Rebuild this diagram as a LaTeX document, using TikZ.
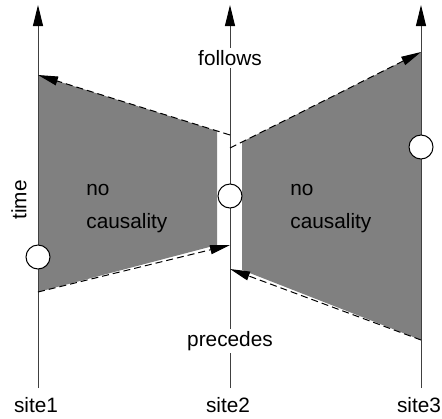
\documentclass[tikz,border=0pt]{standalone}
\usepackage{fontspec}
\setmainfont{Liberation Sans}
\usetikzlibrary{arrows.meta}

\begin{document}
\begin{tikzpicture}[x=0.5pt, y=-0.5pt,
            font=\fontsize{10.4}{16.5}\selectfont,
            site/.style={draw=black!75, line width=0.5pt, -{Triangle[length=10.5pt,width=5pt,color=black]}},
            msg/.style={draw=black, line width=0.5pt, dash pattern=on 3.5pt off 2pt, -{Triangle[length=10pt,width=4.5pt]}},
            event/.style={draw, circle, fill=white, minimum size=12pt, inner sep=0pt, line width=0.5pt},
            zone/.style={fill=black!50, draw=none},
            txt/.style={fill=white, inner sep=1pt}]
            \useasboundingbox (0,0) rectangle (442,418);

            % shaded regions
            \fill[zone] (38,75) -- (217,131) -- (217,245) -- (38,292) -- cycle;
            \fill[zone] (242,142) -- (421,52) -- (421,340) -- (242,270) -- cycle;

            % sites
            \node (site1) at (36,405) {site1};
            \node (site2) at (228,405) {site2};
            \node (site3) at (419,405) {site3};
            \coordinate (b1) at (38,388);
            \coordinate (b2) at (230,388);
            \coordinate (b3) at (421,388);
            \coordinate (t1) at (38,5);
            \coordinate (t2) at (230,5);
            \coordinate (t3) at (421,5);
            \path
            (b1) edge[site] (t1)
            (b2) edge[site] (t2)
            (b3) edge[site] (t3);

            % messages
            \coordinate (m1) at (38,75);
            \coordinate (m2) at (230,135);
            \coordinate (m3) at (38,292);
            \coordinate (m4) at (230,245);
            \coordinate (m5) at (230,148);
            \coordinate (m6) at (421,52);
            \coordinate (m7) at (421,340);
            \coordinate (m8) at (230,269);
            \path
            (m2) edge[msg] (m1)
            (m3) edge[msg] (m4)
            (m5) edge[msg] (m6)
            (m7) edge[msg] (m8);

            % events
            \node[event] (e1) at (38,257) {};
            \node[event] (e2) at (230,196) {};
            \node[event] (e3) at (421,147) {};

            % labels
            \node[txt] (follows) at (230,58) {follows};
            \node[txt] (precedes) at (230,341) {precedes};
            \node[rotate=90] (time) at (19,200) {time};
            \node[align=left, anchor=base west, inner sep=0pt] (nc1) at (86,228) {no\\causality};
            \node[align=left, anchor=base west, inner sep=0pt] (nc2) at (290,228) {no\\causality};
\end{tikzpicture}
\end{document}
